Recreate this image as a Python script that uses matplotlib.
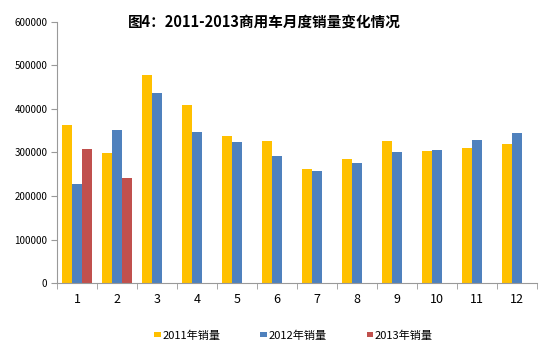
import matplotlib.pyplot as plt
import numpy as np

plt.rcParams['font.family'] = ['Noto Sans CJK SC', 'DejaVu Sans']

months = [str(m) for m in range(1, 13)]
sales_2011 = [364000, 299000, 479000, 408000, 339000, 326000, 262000, 286000, 326000, 303000, 311000, 320000]
sales_2012 = [228000, 352000, 436000, 346000, 324000, 291000, 257000, 275000, 300000, 305000, 329000, 345000]
sales_2013 = [308000, 241000] + [np.nan] * 10

series = [
    ("2011年销量", sales_2011, "#FFC000"),
    ("2012年销量", sales_2012, "#4F81BD"),
    ("2013年销量", sales_2013, "#C0504D"),
]

fig = plt.figure(figsize=(5.59, 3.53), dpi=100)
ax = fig.add_axes([0.102, 0.198, 0.859, 0.740])

x = np.arange(len(months))
w = 0.245
for i, (name, vals, color) in enumerate(series):
    ax.bar(x + (i - 1) * w, vals, width=w, color=color, label=name)

ax.set_xlim(-0.5, len(months) - 0.5)
ax.set_ylim(0, 600000)
ax.set_yticks(np.arange(0, 600001, 100000))
ax.set_yticklabels([str(v) for v in range(0, 600001, 100000)], fontsize=7, fontweight='medium')
ax.set_xticks(x)
ax.set_xticklabels(months, fontsize=9)
ax.set_xticks(np.arange(-0.5, len(months)), minor=True)
ax.tick_params(axis='x', which='major', length=0, pad=7)
ax.tick_params(axis='x', which='minor', length=4, color='#999999')
ax.tick_params(axis='y', length=4, color='#999999', pad=3)

for s in ['top', 'right']:
    ax.spines[s].set_visible(False)
for s in ['left', 'bottom']:
    ax.spines[s].set_color('#999999')

fig.text(0.473, 0.938, "图4：2011-2013商用车月度销量变化情况", ha='center', va='center',
         fontsize=10.5, fontweight='bold')

leg = fig.legend(loc='center', bbox_to_anchor=(0.525, 0.05), ncol=3, frameon=False,
                 fontsize=8, handlelength=0.6, handleheight=0.3, handletextpad=0.15,
                 columnspacing=3.6)
for t in leg.get_texts():
    t.set_fontweight('medium')

fig.savefig("out.png", dpi=100)
